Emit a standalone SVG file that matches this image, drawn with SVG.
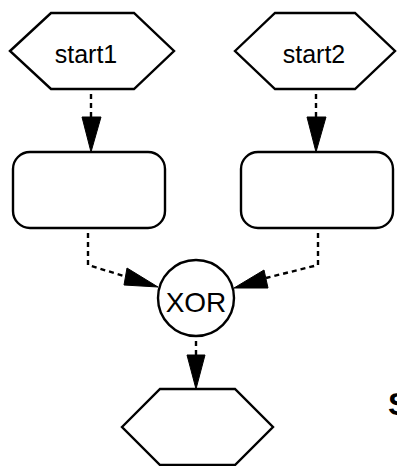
<svg xmlns="http://www.w3.org/2000/svg" width="397" height="466" viewBox="0 0 397 466">
<style>
.shape{fill:#fff;stroke:#000;stroke-width:2.4}
.lbl{font-family:"Liberation Sans",Arial,sans-serif;fill:#000;text-anchor:middle}
.edge{fill:none;stroke:#000;stroke-width:2.4;stroke-dasharray:5,4}
.head{fill:#000;stroke:#000;stroke-width:1}
</style>
<rect width="397" height="466" fill="#fff"/>
<g id="start1">
<polygon class="shape" points="10,51 51,13 134,13 174,51 134,89 51,89"/>
<text class="lbl" x="86" y="63" font-size="25">start1</text>
</g>
<g id="start2">
<polygon class="shape" points="235,51 275,13 355,13 395,51 355,89 275,89"/>
<text class="lbl" x="314" y="63" font-size="25">start2</text>
</g>
<g id="task1">
<rect class="shape" x="13" y="152" width="152" height="76" rx="17" ry="17"/>
</g>
<g id="task2">
<rect class="shape" x="241" y="152" width="152" height="76" rx="17" ry="17"/>
</g>
<g id="xor">
<circle class="shape" cx="196" cy="298" r="38"/>
<text class="lbl" x="196" y="312" font-size="28">XOR</text>
</g>
<g id="end">
<polygon class="shape" points="122,427 160,389 235,389 273,427 235,465 160,465"/>
</g>
<text x="388" y="415" font-family="Liberation Sans,Arial,sans-serif" font-weight="bold" font-size="32">S</text>
<g id="connectors">
<path class="edge" d="M91,94 V118"/>
<polygon class="head" points="82,117 101,117 91,152"/>
<path class="edge" d="M316,94 V118"/>
<polygon class="head" points="307,117 326,117 316,152"/>
<path class="edge" d="M88,233 V265 L127,277"/>
<polygon class="head" points="127,268 124,285 158,287"/>
<path class="edge" d="M318,233 V265 L266,278"/>
<polygon class="head" points="264,270 268,288 234,288"/>
<path class="edge" d="M196,341 V356"/>
<polygon class="head" points="187,355 205,355 196,389"/>
</g>
</svg>
